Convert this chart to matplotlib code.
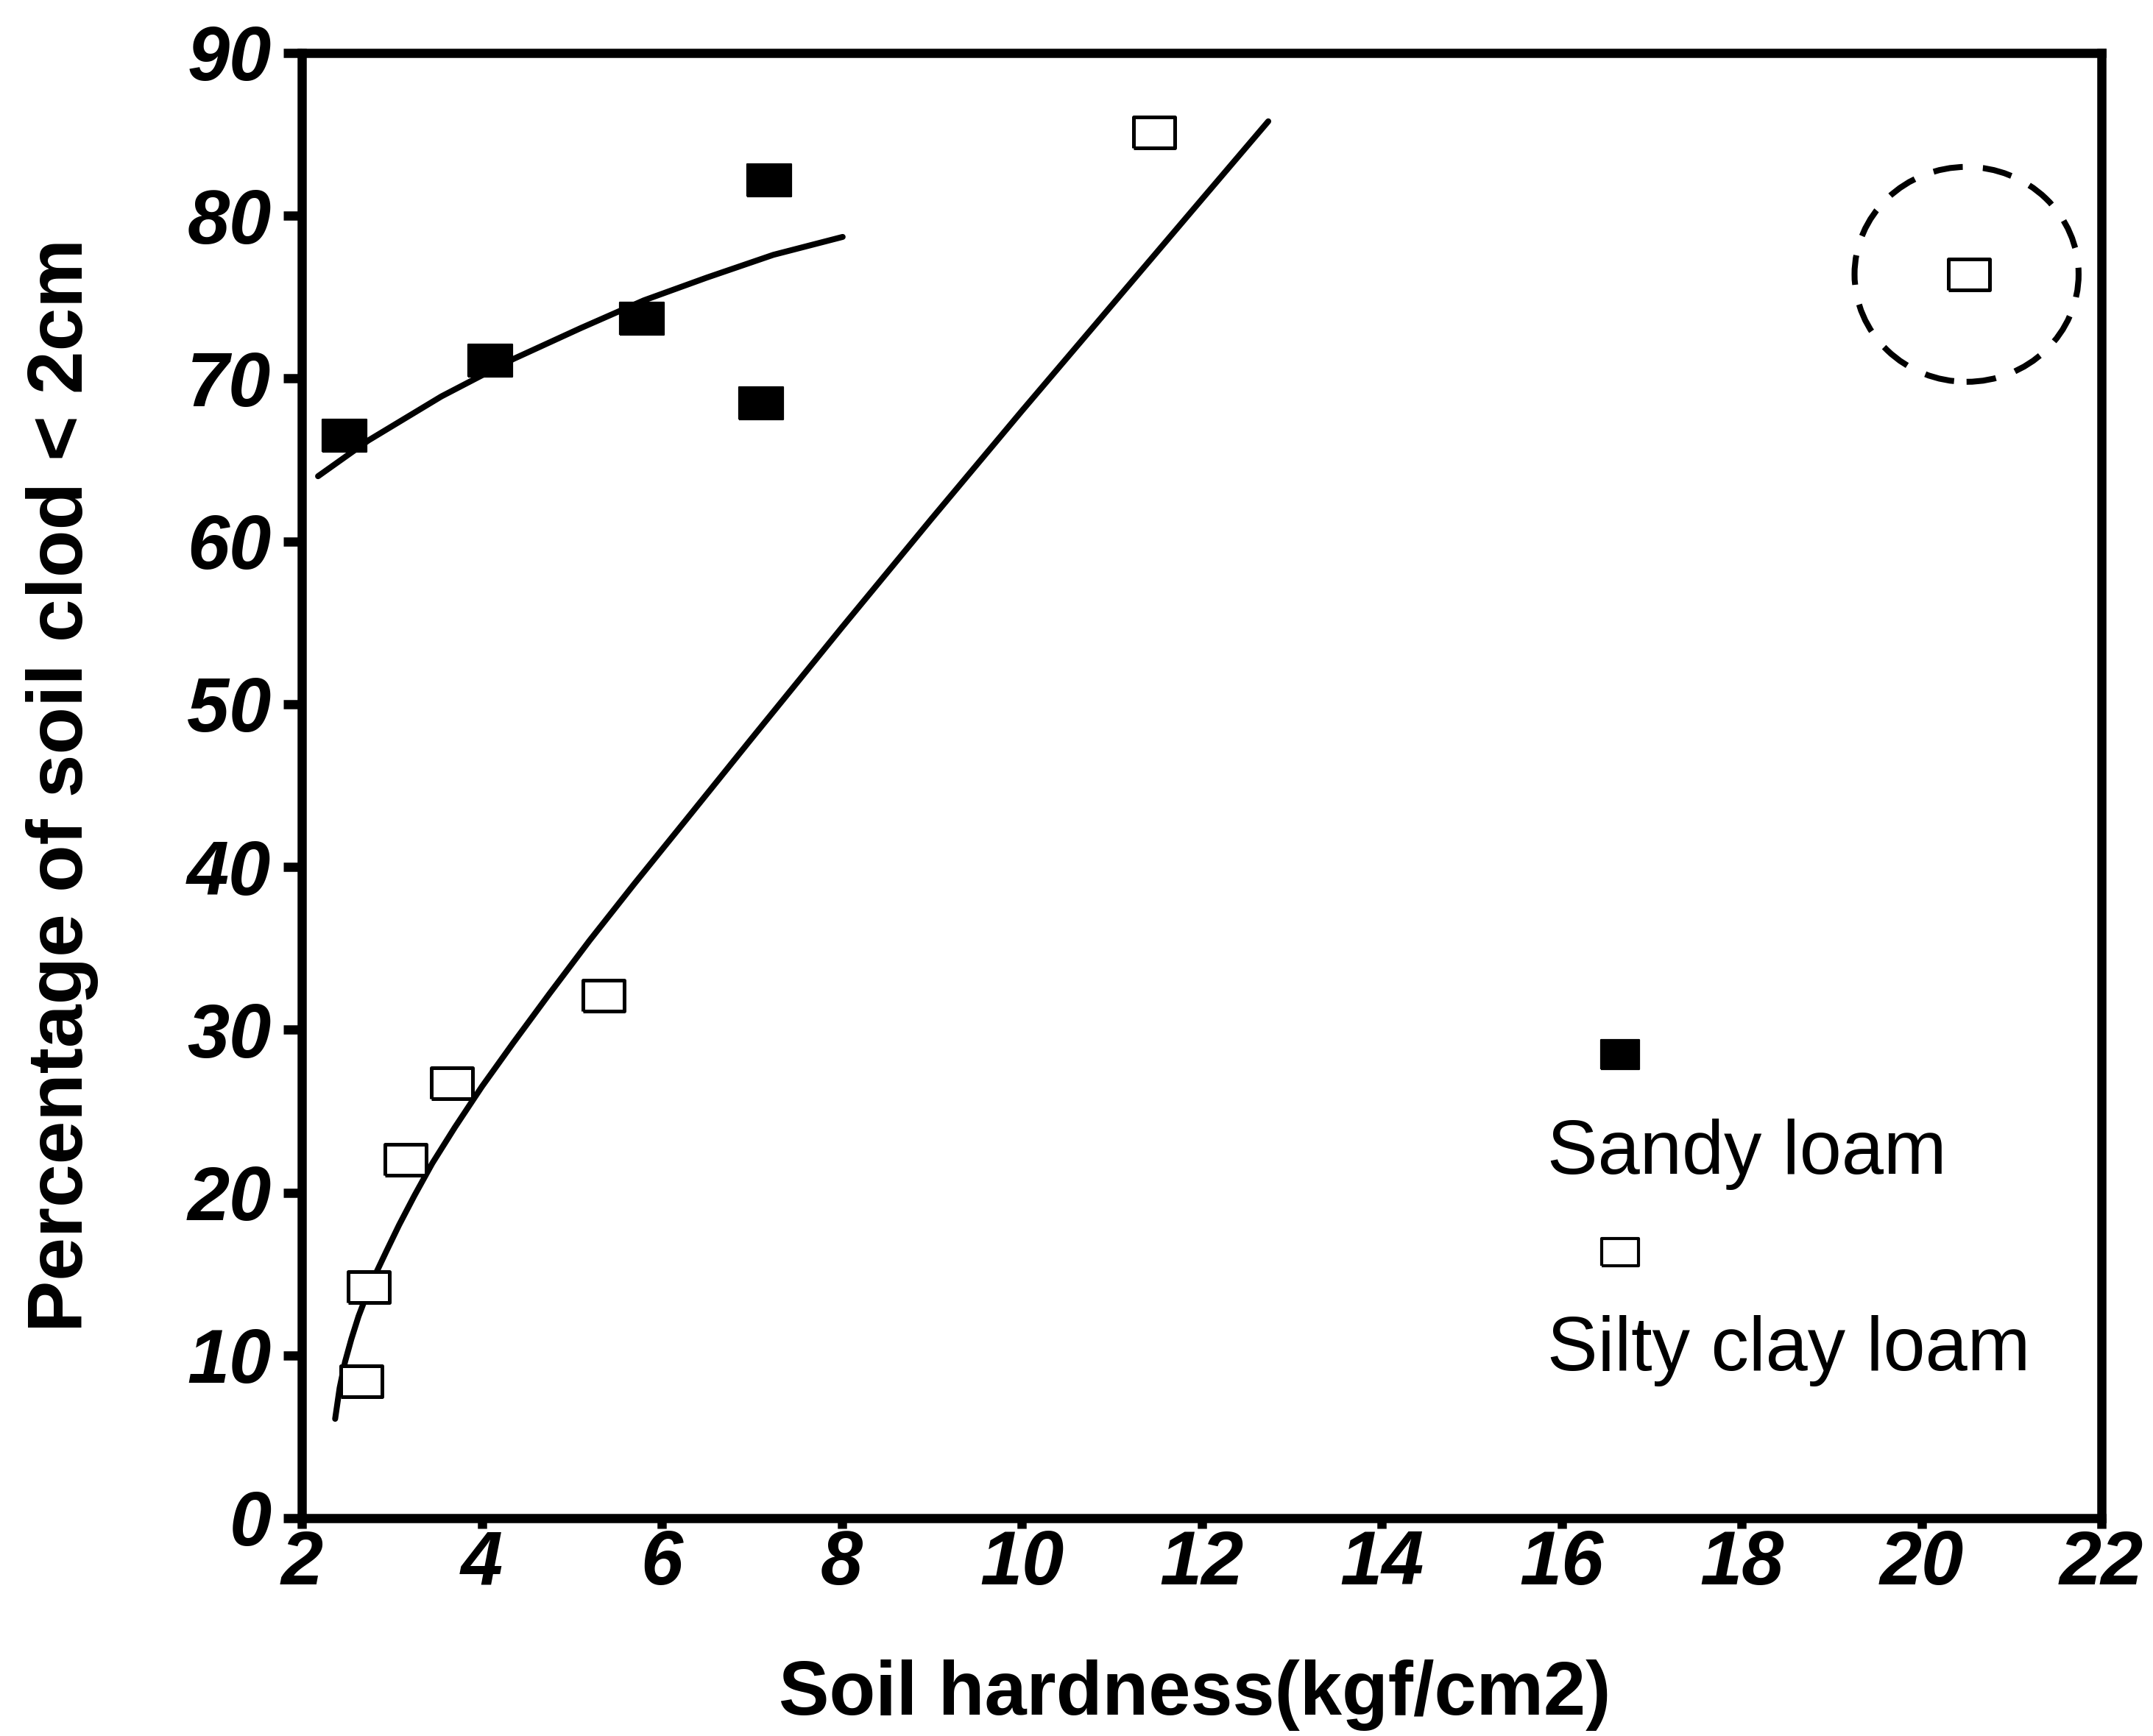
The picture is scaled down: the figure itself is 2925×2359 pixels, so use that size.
import matplotlib
matplotlib.use("Agg")
import matplotlib.pyplot as plt
from matplotlib.patches import Ellipse

plt.rcParams['font.family'] = ['Liberation Sans', 'DejaVu Sans']

# measured points
sandy_x = [2.47, 4.09, 5.78, 7.19, 7.10]
sandy_y = [66.5, 71.1, 73.7, 82.2, 68.5]
silty_x = [2.66, 2.74, 3.15, 3.67, 5.35, 11.47, 20.53]
silty_y = [8.4, 14.2, 22.0, 26.7, 32.1, 85.1, 76.4]

# fitted curves
sandy_fit_x = [2.18, 2.74, 3.55, 4.35, 5.1, 5.8, 6.5, 7.24, 8.01]
sandy_fit_y = [64.0, 66.2, 68.9, 71.2, 73.1, 74.8, 76.2, 77.6, 78.7]
silty_fit_x = [2.37, 2.42, 2.48, 2.55, 2.63, 2.72, 2.82, 2.94, 3.08, 3.25,
               3.45, 3.7, 4.0, 4.35, 4.75, 5.2, 5.7, 6.3, 7.0, 8.0, 9.0,
               10.0, 11.0, 12.0, 12.74]
silty_fit_y = [6.1, 8.0, 9.6, 11.0, 12.4, 13.7, 15.0, 16.4, 18.0, 19.8,
               21.8, 24.0, 26.5, 29.2, 32.2, 35.5, 39.0, 43.1, 47.9, 54.7,
               61.4, 68.0, 74.5, 81.0, 85.8]

x_ticks = [2, 4, 6, 8, 10, 12, 14, 16, 18, 20, 22]
y_ticks = [0, 10, 20, 30, 40, 50, 60, 70, 80, 90]

# rectangle marker (wider than tall)
rect = [(-0.5, -0.37), (0.5, -0.37), (0.5, 0.37), (-0.5, 0.37), (-0.5, -0.37)]

fig = plt.figure(figsize=(14.625, 11.795), dpi=200)
ax = fig.add_axes([0.1402, 0.1255, 0.8359, 0.844])

ax.plot(sandy_fit_x, sandy_fit_y, color='black', lw=2.9, solid_capstyle='round',
        solid_joinstyle='round')
ax.plot(silty_fit_x, silty_fit_y, color='black', lw=2.9, solid_capstyle='round',
        solid_joinstyle='round')

ax.plot(sandy_x, sandy_y, ls='none', marker=rect, ms=21.5, mfc='black',
        mec='black', mew=0.8)
ax.plot(silty_x, silty_y, ls='none', marker=rect, ms=20.5, mfc='white',
        mec='black', mew=1.8)

# dashed circle around the outlier
circ = Ellipse((silty_x[-1] - 0.03, silty_y[-1]), width=2.49, height=13.2,
               fill=False, ec='black', lw=2.9, ls=(0, (5, 3.4)))
ax.add_patch(circ)

ax.set_xlim(2, 22)
ax.set_ylim(0, 90)
ax.set_xticks(x_ticks)
ax.set_yticks(y_ticks)
ax.set_xticklabels([str(v) for v in x_ticks])
ax.set_yticklabels([str(v) for v in y_ticks])

for s in ax.spines.values():
    s.set_linewidth(4.5)
ax.tick_params(axis='x', direction='out', length=5, width=4.5, pad=0.5)
ax.tick_params(axis='y', direction='out', length=9, width=4.5, pad=6)
for lab in ax.get_xticklabels() + ax.get_yticklabels():
    lab.set_fontsize(37)
    lab.set_fontweight('bold')
    lab.set_fontstyle('italic')

ax.set_xlabel('Soil hardness(kgf/cm2)', fontsize=37, fontweight='bold')
ax.set_ylabel('Percentage of soil clod < 2cm', fontsize=38, fontweight='bold')
ax.xaxis.set_label_coords(0.496, -0.121)
ax.xaxis.label.set_verticalalignment('center')
ax.yaxis.set_label_coords(-0.133, 0.5)
ax.yaxis.label.set_verticalalignment('center')

# legend: marker above its label
ax.plot([0.7325], [0.3164], transform=ax.transAxes, ls='none', marker=rect,
        ms=19, mfc='black', mec='black', mew=0.8, clip_on=False)
ax.text(0.692, 0.235, 'Sandy loam', transform=ax.transAxes, fontsize=37,
        va='baseline', ha='left')
ax.plot([0.7325], [0.1818], transform=ax.transAxes, ls='none', marker=rect,
        ms=18, mfc='white', mec='black', mew=1.5, clip_on=False)
ax.text(0.692, 0.101, 'Silty clay loam', transform=ax.transAxes, fontsize=37,
        va='baseline', ha='left')

fig.savefig('out.png', dpi=200)
